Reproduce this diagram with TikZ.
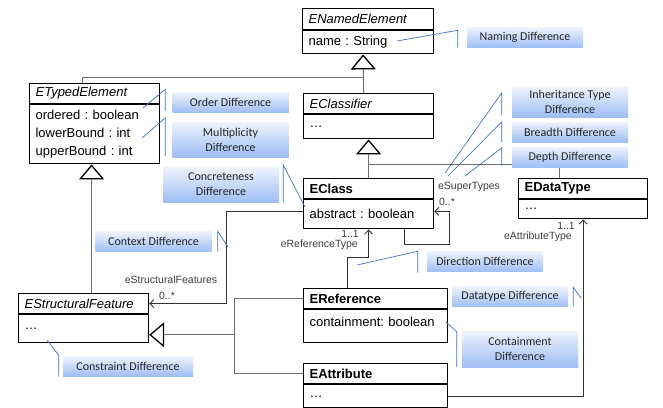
\documentclass[tikz,border=0pt]{standalone}
\usepackage{fontspec}
\setmainfont{Liberation Sans}
\newfontfamily\calfont{Carlito}
\usetikzlibrary{arrows.meta,calc}
\definecolor{calltop}{RGB}{238,243,253}
\definecolor{callbot}{RGB}{158,190,244}
\definecolor{callline}{RGB}{68,114,196}
\definecolor{linegray}{RGB}{110,110,110}
\frenchspacing
\begin{document}
\begin{tikzpicture}[x=1pt,y=-1pt]
  \tikzstyle{umlbox}=[draw, line width=1.2pt, inner xsep=6pt, inner ysep=0pt, align=left, font=\fontsize{13}{18}\selectfont]
  \tikzstyle{abstracthead}=[umlbox, anchor=north west, minimum height=20pt, font=\fontsize{13}{18}\selectfont\itshape]
  \tikzstyle{concretehead}=[umlbox, anchor=north west, minimum height=20pt, font=\fontsize{13}{18}\selectfont\bfseries]
  \tikzstyle{umlbody}=[umlbox, anchor=north]
  \tikzstyle{genline}=[draw=linegray, line width=0.9pt]
  \tikzstyle{gen}=[genline, -{Triangle[length=15pt, width=25pt, line width=1.3pt, color=black, fill=white]}]
  \tikzstyle{assoc}=[draw=black!80, line width=0.9pt, -{Straight Barb[length=4pt, width=8pt]}]
  \tikzstyle{rolelabel}=[inner sep=0pt, text=black!75, font=\fontsize{10.5}{12}\selectfont]
  \tikzstyle{callout}=[top color=calltop, bottom color=callbot, minimum width=116pt, minimum height=20pt, inner sep=0pt, align=center, text=black!85, font=\calfont\fontsize{12}{15}\selectfont]
  \tikzstyle{calloutline}=[draw=callline, line width=0.7pt]

  \path[use as bounding box, fill=white] (0,0) rectangle (663,407);

  % classes
  \node[abstracthead, text width=119pt, minimum height=21pt] (named) at (302,8) {ENamedElement};
  \node[umlbody, text width=119pt, minimum height=23pt] (namedbody) at (named.south) {name : String};

  \node[abstracthead, text width=118pt] (typed) at (29,83) {ETypedElement};
  \node[umlbody, text width=118pt, minimum height=59pt] (typedbody) at (typed.south) {ordered : boolean\\lowerBound : int\\upperBound : int};

  \node[abstracthead, text width=118pt] (classifier) at (303,93) {EClassifier};
  \node[umlbody, text width=118pt, minimum height=24pt] (classifierbody) at (classifier.south) {\dots};

  \node[concretehead, text width=118pt] (eclass) at (303,178) {EClass};
  \node[umlbody, text width=118pt, minimum height=29pt] (eclassbody) at (eclass.south) {abstract : boolean};

  \node[concretehead, text width=117pt] (datatype) at (518,178) {EDataType};
  \node[umlbody, text width=117pt, minimum height=19pt] (datatypebody) at (datatype.south) {\dots};

  \node[abstracthead, text width=118pt] (feature) at (18,293) {EStructuralFeature};
  \node[umlbody, text width=118pt, minimum height=28pt] (featurebody) at (feature.south) {\dots};

  \node[concretehead, text width=132pt] (reference) at (303,288) {EReference};
  \node[umlbody, text width=132pt, text height=17pt, text depth=16pt] (referencebody) at (reference.south) {containment: boolean};

  \node[concretehead, text width=132pt] (attribute) at (303,363) {EAttribute};
  \node[umlbody, text width=132pt, minimum height=23pt] (attributebody) at (attribute.south) {\dots};

  % inheritance
  \draw[gen] ([xshift=-5pt]classifier.north) -- ([xshift=-5pt]namedbody.south);
  \draw[genline] ([xshift=-12pt]typed.north) |- ($([xshift=-5pt]namedbody.south)+(0,23)$);
  \draw[gen] (eclass.north) -- (classifierbody.south);
  \draw[genline] ([xshift=-24pt]datatype.north) |- ($(eclass.north)+(0,-14)$);
  \draw[gen] ([xshift=8pt]feature.north) -- ([xshift=8pt]feature.north |- typedbody.south);
  \coordinate (featurejoin) at ($(featurebody.east)+(85,6)$);
  \draw[genline] (reference.west) -| (featurejoin);
  \draw[genline] (attribute.west) -| (featurejoin);
  \draw[gen] (featurejoin) -- (featurejoin -| featurebody.east);

  % associations
  \draw[assoc] ([yshift=3pt]eclassbody.west) -- ++(-77,0) |- (feature.east);
  \draw[assoc] ([xshift=-30pt]eclassbody.south east) -- ++(0,15) -- ++(45,0) |- ([yshift=3pt]eclassbody.east);
  \draw[assoc] ([xshift=-28pt]reference.north) -- ++(0,-31) -| (eclassbody.south);
  \draw[assoc] (attributebody.east) -| (datatypebody.south);

  \node[rolelabel] (featrole) at (171,280) {eStructuralFeatures};
  \node[rolelabel] (featmult) at (167,296) {0..*};
  \node[rolelabel] (superrole) at (469,187) {eSuperTypes};
  \node[rolelabel] (supermult) at (447,202) {0..*};
  \node[rolelabel, anchor=east] (refmult) at (359,234) {1..1};
  \node[rolelabel, anchor=east] (refrole) at (358,245) {eReferenceType};
  \node[rolelabel, anchor=east] (attrmult) at (575,226) {1..1};
  \node[rolelabel, anchor=east] (attrrole) at (572,237) {eAttributeType};

  % differences
  \node[callout] (naming) at (525,37.5) {Naming Difference};
  \node[callout] (order) at (230.5,102.5) {Order Difference};
  \node[callout, minimum height=35pt] (multiplicity) at (230.5,139.5) {Multiplicity\\Difference};
  \node[callout, minimum height=35pt] (concreteness) at (221,184.5) {Concreteness\\Difference};
  \node[callout] (context) at (153.5,241.5) {Context Difference};
  \node[callout, minimum height=30pt] (inheritance) at (570,102) {Inheritance Type\\Difference};
  \node[callout] (breadth) at (570,132) {Breadth Difference};
  \node[callout] (depth) at (570,157) {Depth Difference};
  \node[callout] (direction) at (485,261.5) {Direction Difference};
  \node[callout] (datatypediff) at (510,296.5) {Datatype Difference};
  \node[callout, minimum height=36pt] (containment) at (520,349) {Containment\\Difference};
  \node[callout, minimum width=130pt] (constraint) at (128,366.5) {Constraint Difference};

  \coordinate (namingtarget) at (397,41);
  \coordinate (ordertarget) at (143,108);
  \coordinate (multiplicitytarget) at (142,138);
  \coordinate (concretenesstarget) at (305,207);
  \coordinate (contexttarget) at (228,247);
  \coordinate (inheritancetarget) at (445,173);
  \coordinate (breadthtarget) at (448,176);
  \coordinate (depthtarget) at (465,176);
  \coordinate (directiontarget) at (357,265);
  \coordinate (datatypetarget) at (581,298);
  \coordinate (containmenttarget) at (446,322);
  \coordinate (constrainttarget) at (47,340);

  \draw[calloutline] (namingtarget) -- ([xshift=-9pt,yshift=-3pt]naming.north west) -- ([xshift=-9pt]naming.south west);
  \draw[calloutline] (ordertarget) -- ([xshift=-7pt,yshift=3pt]order.north west) -- ([xshift=-7pt,yshift=2pt]order.south west);
  \draw[calloutline] (multiplicitytarget) -- ([xshift=-7pt,yshift=4pt]multiplicity.north west) -- ([xshift=-7pt,yshift=1pt]multiplicity.south west);
  \draw[calloutline] (concretenesstarget) -- ([xshift=4pt,yshift=2pt]concreteness.north east) -- ([xshift=4pt]concreteness.south east);
  \draw[calloutline] (contexttarget) -- ([xshift=6pt]context.north east) -- ([xshift=6pt]context.south east);
  \draw[calloutline] (inheritancetarget) -- ([xshift=-10pt,yshift=-6pt]inheritance.north west) -- ([xshift=-10pt,yshift=2pt]inheritance.south west);
  \draw[calloutline] (breadthtarget) -- ([xshift=-10pt]breadth.north west) -- ([xshift=-10pt]breadth.south west);
  \draw[calloutline] (depthtarget) -- ([xshift=-10pt,yshift=-1pt]depth.north west) -- ([xshift=-10pt,yshift=1pt]depth.south west);
  \draw[calloutline] (directiontarget) -- ([xshift=-9pt]direction.north west) -- ([xshift=-9pt,yshift=-1pt]direction.south west);
  \draw[calloutline] (datatypetarget) -- ([xshift=5pt,yshift=-1pt]datatypediff.north east) -- ([xshift=5pt]datatypediff.south east);
  \draw[calloutline] (containmenttarget) -- ([xshift=-5pt,yshift=-1pt]containment.north west) -- ([xshift=-5pt]containment.south west);
  \draw[calloutline] (constrainttarget) -- ([xshift=-4pt,yshift=1pt]constraint.north west) -- ([xshift=-4pt]constraint.south west);
\end{tikzpicture}
\end{document}
